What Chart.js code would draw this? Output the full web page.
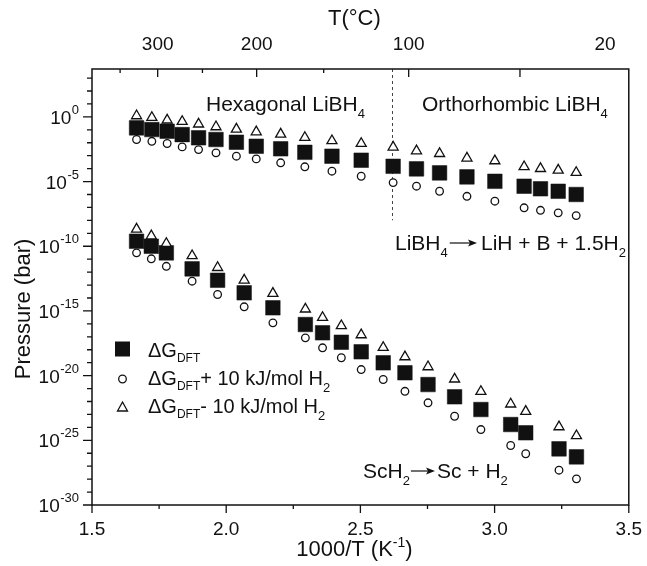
<!DOCTYPE html>
<html><head><meta charset="utf-8">
<script src="https://cdn.jsdelivr.net/npm/chart.js@4/dist/chart.umd.min.js"></script>
<style>html,body{margin:0;padding:0;background:#fff}#wrap{width:647px;height:566px;position:relative}</style>
</head><body><div id="wrap"><canvas id="c" width="647" height="566"></canvas></div>
<script>
// ---- data (x = 1000/T in 1/K, values = log10(pressure / bar)) ----
const libh4X        = [1.666, 1.723, 1.780, 1.836, 1.897, 1.962, 2.038, 2.112, 2.203, 2.293, 2.394, 2.503, 2.622, 2.709, 2.795, 2.897, 3.001, 3.110, 3.171, 3.237, 3.304];
const libh4DftLog   = [-0.85, -0.98, -1.11, -1.37, -1.62, -1.75, -1.96, -2.27, -2.47, -2.74, -3.04, -3.35, -3.82, -4.02, -4.33, -4.64, -4.98, -5.36, -5.56, -5.75, -6.00];
const libh4PlusLog  = [-1.75, -1.89, -2.06, -2.32, -2.53, -2.78, -3.04, -3.25, -3.55, -3.86, -4.20, -4.59, -5.08, -5.36, -5.75, -6.14, -6.52, -7.03, -7.22, -7.42, -7.63];
const libh4MinusLog = [0.08, -0.05, -0.25, -0.36, -0.56, -0.77, -0.95, -1.16, -1.34, -1.60, -1.85, -2.06, -2.34, -2.63, -2.84, -3.19, -3.40, -3.86, -4.00, -4.12, -4.30];

const sch2X        = [1.666, 1.721, 1.777, 1.873, 1.968, 2.067, 2.174, 2.295, 2.359, 2.429, 2.503, 2.585, 2.666, 2.752, 2.851, 2.949, 3.060, 3.116, 3.240, 3.305];
const sch2DftLog   = [-9.61, -10.00, -10.51, -11.75, -12.63, -13.60, -14.76, -16.05, -16.69, -17.42, -18.16, -19.01, -19.78, -20.69, -21.64, -22.62, -23.78, -24.42, -25.66, -26.28];
const sch2PlusLog  = [-10.51, -10.97, -11.55, -12.70, -13.73, -14.68, -15.92, -17.08, -17.85, -18.62, -19.53, -20.30, -21.21, -22.10, -23.14, -24.17, -25.40, -26.04, -27.31, -27.98];
const sch2MinusLog = [-8.68, -9.20, -9.79, -10.74, -11.65, -12.62, -13.65, -14.86, -15.51, -16.15, -16.85, -17.83, -18.55, -19.32, -20.27, -21.23, -22.20, -22.77, -23.96, -24.65];

const xTickValues   = [1.5, 2.0, 2.5, 3.0, 3.5];
const xMinorValues  = [1.75, 2.25, 2.75, 3.25];
const yExponents    = [0, -5, -10, -15, -20, -25, -30];
const topTempLabels = [300, 200, 100, 20];
const topTempMajor  = [300, 200, 100, 50];
const topTempMinor  = [350, 250, 150];
const transitionX   = 2.618;   // hexagonal / orthorhombic transition
const transitionBottomLog = -8;

const FONT = "'Liberation Sans', Arial, Helvetica, sans-serif";
const INK = '#111';

const pts = (xs, logs) => xs.map((x, i) => ({x: x, y: Math.pow(10, logs[i])}));
const invT = T => 1000 / (T + 273.15);

function richText(ctx, x, y, parts) {
  let cx = x;
  for (const [t, size, dy] of parts) {
    ctx.font = size + 'px ' + FONT;
    ctx.fillText(t, cx, y + (dy || 0));
    cx += ctx.measureText(t).width;
  }
  return cx;
}
function arrow(ctx, x1, x2, y) {
  ctx.save();
  ctx.strokeStyle = INK; ctx.fillStyle = INK; ctx.lineWidth = 1.2;
  ctx.beginPath(); ctx.moveTo(x1, y); ctx.lineTo(x2 - 6, y); ctx.stroke();
  ctx.beginPath(); ctx.moveTo(x2, y); ctx.lineTo(x2 - 9, y - 3.5); ctx.lineTo(x2 - 7, y); ctx.lineTo(x2 - 9, y + 3.5); ctx.closePath(); ctx.fill();
  ctx.restore();
}

const decor = {
  id: 'decor',
  beforeDatasetsDraw(chart) {
    const {ctx, scales: {x, y}} = chart;
    const px = x.getPixelForValue(transitionX);
    ctx.save();
    ctx.strokeStyle = '#444'; ctx.lineWidth = 1; ctx.setLineDash([3, 3]);
    ctx.beginPath();
    ctx.moveTo(Math.round(px) + 0.5, chart.chartArea.top);
    ctx.lineTo(Math.round(px) + 0.5, y.getPixelForValue(Math.pow(10, transitionBottomLog)));
    ctx.stroke();
    ctx.restore();
  },
  afterDraw(chart) {
    const {ctx, chartArea: a, scales: {x, y}} = chart;
    ctx.save();
    ctx.strokeStyle = INK; ctx.fillStyle = INK; ctx.lineWidth = 1.5;
    ctx.strokeRect(a.left, a.top, a.right - a.left, a.bottom - a.top);
    ctx.lineWidth = 1.3;
    ctx.beginPath();
    for (const v of xTickValues) { const p = x.getPixelForValue(v); ctx.moveTo(p, a.bottom); ctx.lineTo(p, a.bottom + 8); }
    for (const v of xMinorValues) { const p = x.getPixelForValue(v); ctx.moveTo(p, a.bottom); ctx.lineTo(p, a.bottom + 4); }
    for (let e = -30; e <= 3; e++) {
      const p = y.getPixelForValue(Math.pow(10, e));
      const len = (e % 5 === 0) ? 9 : 5;
      ctx.moveTo(a.left, p); ctx.lineTo(a.left - len, p);
    }
    for (const T of topTempMajor) { const p = x.getPixelForValue(invT(T)); ctx.moveTo(p, a.top); ctx.lineTo(p, a.top + 8); }
    for (const T of topTempMinor) { const p = x.getPixelForValue(invT(T)); ctx.moveTo(p, a.top); ctx.lineTo(p, a.top + 4); }
    ctx.stroke();

    ctx.textBaseline = 'alphabetic';
    for (const e of yExponents) {
      const p = y.getPixelForValue(Math.pow(10, e));
      const es = String(e);
      ctx.font = '13px ' + FONT;
      const ew = ctx.measureText(es).width;
      ctx.textAlign = 'right';
      ctx.fillText(es, 79, p - 3);
      ctx.font = '19px ' + FONT;
      ctx.fillText('10', 79 - ew - 0.5, p + 7);
    }
    ctx.textAlign = 'left';

    ctx.font = '22px ' + FONT;
    const cx = (a.left + a.right) / 2;
    const tw = ctx.measureText('T(\u00B0C)').width;
    ctx.fillText('T(\u00B0C)', cx - tw / 2 - 6, 25);
    ctx.font = '22px ' + FONT;
    const w1 = ctx.measureText('1000/T (K').width;
    ctx.font = '14px ' + FONT;
    const w2 = ctx.measureText('-1').width;
    ctx.font = '22px ' + FONT;
    const w3 = ctx.measureText(')').width;
    richText(ctx, cx - (w1 + w2 + w3) / 2 - 6, 556, [['1000/T (K', 22, 0], ['-1', 14, -9], [')', 22, 0]]);
    ctx.save();
    ctx.translate(30, (a.top + a.bottom) / 2 + 22);
    ctx.rotate(-Math.PI / 2);
    ctx.font = '22px ' + FONT;
    ctx.textAlign = 'center';
    ctx.fillText('Pressure (bar)', 0, 0);
    ctx.restore();

    richText(ctx, 206, 111, [['Hexagonal LiBH', 21, 0], ['4', 13, 7]]);
    richText(ctx, 422, 111, [['Orthorhombic LiBH', 21, 0], ['4', 13, 7]]);
    let ex = richText(ctx, 395, 250, [['LiBH', 21, 0], ['4', 13, 7]]);
    arrow(ctx, ex + 2, 477, 243);
    richText(ctx, 481, 250, [['LiH + B + 1.5H', 21, 0], ['2', 13, 7]]);
    ex = richText(ctx, 363, 478, [['ScH', 21, 0], ['2', 13, 7]]);
    arrow(ctx, ex + 1, 435, 471);
    richText(ctx, 437, 478, [['Sc + H', 21, 0], ['2', 13, 7]]);

    ctx.fillRect(115, 341.5, 15, 15);
    ctx.lineWidth = 1.3;
    ctx.beginPath(); ctx.arc(122.5, 379, 3.8, 0, Math.PI * 2); ctx.stroke();
    ctx.beginPath(); ctx.moveTo(122.5, 402); ctx.lineTo(127.5, 411); ctx.lineTo(117.5, 411); ctx.closePath(); ctx.stroke();
    richText(ctx, 148, 357, [['\u0394G', 20, 0], ['DFT', 12, 5]]);
    richText(ctx, 148, 385, [['\u0394G', 20, 0], ['DFT', 12, 5], ['+ 10 kJ/mol H', 20, 0], ['2', 13, 7]]);
    richText(ctx, 148, 413, [['\u0394G', 20, 0], ['DFT', 12, 5], ['- 10 kJ/mol H', 20, 0], ['2', 13, 7]]);
    ctx.restore();
  }
};

const squareStyle = {pointStyle: 'rect', pointRadius: 10.3, backgroundColor: INK, borderColor: INK, borderWidth: 0.5, showLine: false, order: 3};
const circleStyle = {pointStyle: 'circle', pointRadius: 3.8, backgroundColor: '#fff', borderColor: INK, borderWidth: 1.3, showLine: false, order: 1};
const triStyle    = {pointStyle: 'triangle', pointRadius: 5.8, backgroundColor: '#fff', borderColor: INK, borderWidth: 1.3, showLine: false, order: 1};

new Chart(document.getElementById('c'), {
  type: 'scatter',
  data: {
    datasets: [
      Object.assign({label: 'LiBH4 dG+10', data: pts(libh4X, libh4PlusLog)}, circleStyle),
      Object.assign({label: 'LiBH4 dG-10', data: pts(libh4X, libh4MinusLog)}, triStyle),
      Object.assign({label: 'ScH2 dG+10', data: pts(sch2X, sch2PlusLog)}, circleStyle),
      Object.assign({label: 'ScH2 dG-10', data: pts(sch2X, sch2MinusLog)}, triStyle),
      Object.assign({label: 'LiBH4 dG', data: pts(libh4X, libh4DftLog)}, squareStyle),
      Object.assign({label: 'ScH2 dG', data: pts(sch2X, sch2DftLog)}, squareStyle)
    ]
  },
  options: {
    responsive: false, maintainAspectRatio: false, animation: false, devicePixelRatio: 1,
    layout: {padding: {left: 0, right: 14, top: 0, bottom: 0}},
    plugins: {legend: {display: false}, tooltip: {enabled: false}},
    scales: {
      x: {
        type: 'linear', position: 'bottom', min: 1.5, max: 3.5,
        afterBuildTicks: s => { s.ticks = xTickValues.map(v => ({value: v})); },
        afterFit: s => { s.height = 61; },
        grid: {display: false}, border: {display: false},
        ticks: {color: INK, font: {family: FONT, size: 19}, padding: 5, maxRotation: 0, autoSkip: false,
                callback: v => Number(v).toFixed(1)}
      },
      xTop: {
        type: 'linear', position: 'top', min: 1.5, max: 3.5,
        afterBuildTicks: s => { s.ticks = topTempLabels.map(T => ({value: invT(T)})); },
        afterFit: s => { s.height = 69; },
        grid: {display: false}, border: {display: false},
        ticks: {color: INK, font: {family: FONT, size: 19}, padding: 5, maxRotation: 0, autoSkip: false,
                callback: (v, i) => String(topTempLabels[i])}
      },
      y: {
        type: 'logarithmic', position: 'left', min: 1e-30, max: Math.pow(10, 3.7),
        afterFit: s => { s.width = 92; },
        grid: {display: false}, border: {display: false},
        ticks: {display: false}
      }
    }
  },
  plugins: [decor]
});
</script>
</body></html>
